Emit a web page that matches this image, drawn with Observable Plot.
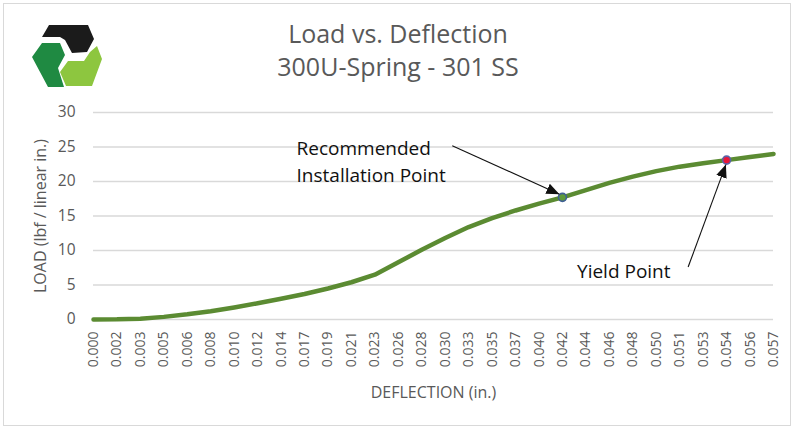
<!DOCTYPE html>
<html>
<head>
<meta charset="utf-8">
<script src="https://cdn.jsdelivr.net/npm/d3@7"></script>
<script src="https://cdn.jsdelivr.net/npm/@observablehq/plot@0.6"></script>
<style>
  body { margin: 0; background: #fff; }
  #wrap { position: relative; width: 796px; height: 431px; overflow: hidden; font-family: "Open Sans", sans-serif; background: #fff; }
  #frame { position: absolute; left: 3px; top: 3px; width: 788px; height: 423px; border: 1px solid #d9d9d9; box-sizing: border-box; }
  #title { position: absolute; left: 0; top: 17px; width: 796px; text-align: center; color: #595959; font-size: 25px; line-height: 33px; }
  #logo { position: absolute; left: 0; top: 0; }
  #chart { position: absolute; left: 0; top: 0; }
</style>
</head>
<body>
<div id="wrap">
  <div id="frame"></div>
  <svg id="logo" width="120" height="100" viewBox="0 0 120 100">
    <polygon points="49,25 88,25 94,39 87,52 72,53 65,40 60,37 42,37" fill="#1b1b1b"/>
    <polygon points="42,43 60,43 65,55 58,68 64,87 48,87 32,57" fill="#1f8a42"/>
    <polygon points="68,61 84,61 90,52 97,46 102,59 92,86 66,86 60,72" fill="#8dc63f"/>
  </svg>
  <div id="title">Load vs. Deflection<br>300U-Spring - 301 SS</div>
  <div id="chart"></div>
</div>
<script>
// Category labels (deflection, in.)
const labels = ["0.000","0.002","0.003","0.005","0.006","0.008","0.010","0.012","0.014","0.017",
                "0.019","0.021","0.023","0.026","0.028","0.030","0.033","0.035","0.037","0.040",
                "0.042","0.044","0.046","0.048","0.050","0.051","0.053","0.054","0.056","0.057"];
// Load values (lbf / linear in.)
const load = [0, 0.02, 0.12, 0.38, 0.75, 1.2, 1.75, 2.35, 3.0, 3.7,
              4.5, 5.4, 6.5, 8.3, 10.1, 11.8, 13.4, 14.7, 15.8, 16.8,
              17.7, 18.75, 19.8, 20.7, 21.5, 22.15, 22.65, 23.1, 23.55, 24.0];
const yTicks = [0, 5, 10, 15, 20, 25, 30];
const installIndex = 20;
const yieldIndex = 27;
// Annotation texts and anchor positions (category index, load)
const noteTexts = ["Recommended\nInstallation Point", "Yield Point"];
const noteX = [8.66, 20.62];
const noteY = [23.1, 7.3];
// Arrows: tail (x1,y1) -> tip (x2,y2) in (category index, load)
const arrowX1 = [15.3, 25.36];
const arrowY1 = [25.17, 7.6];
const arrowX2 = [19.87, 26.97];
const arrowY2 = [18.17, 22.45];

const idx = labels.map((_, i) => i);
const series = labels.map((l, i) => ({i, label: l, load: load[i]}));
const notes = noteTexts.map((t, k) => ({text: t, x: noteX[k], y: noteY[k]}));
const arrows = arrowX1.map((_, k) => ({x1: arrowX1[k], y1: arrowY1[k], x2: arrowX2[k], y2: arrowY2[k]}));
const special = [
  {i: installIndex, load: load[installIndex], fill: "#5e9a3a", stroke: "#3f5f94"},
  {i: yieldIndex, load: load[yieldIndex], fill: "#e8173a", stroke: "#5a63a6"}
];

const chart = Plot.plot({
  width: 796,
  height: 431,
  marginLeft: 93,
  marginRight: 23,
  marginTop: 112,
  marginBottom: 112,
  style: {fontFamily: "Open Sans, sans-serif", background: "transparent", overflow: "visible"},
  x: {domain: [0, labels.length - 1]},
  y: {domain: [0, 30]},
  marks: [
    Plot.gridY(yTicks, {stroke: "#d9d9d9", strokeOpacity: 1, strokeWidth: 1.3}),
    Plot.axisY(yTicks, {tickSize: 0, tickPadding: 18, fontSize: 15.5, fill: "#595959", label: null}),
    Plot.axisX(idx, {tickSize: 0, tickPadding: 12, tickRotate: -90, fontSize: 14, fill: "#595959",
                     tickFormat: (i) => labels[i], label: null}),
    Plot.line(series, {x: "i", y: "load", stroke: "#5b8b32", strokeWidth: 4.5, strokeLinecap: "round", strokeLinejoin: "round"}),
    Plot.dot(special, {x: "i", y: "load", r: 4, fill: "fill", stroke: "stroke", strokeWidth: 1.6}),
    Plot.link(arrows, {x1: "x1", y1: "y1", x2: "x2", y2: "y2", stroke: "#111", strokeWidth: 1.1}),
    Plot.text(notes, {x: "x", y: "y", text: "text", textAnchor: "start", lineAnchor: "middle",
                      fontSize: 19, lineHeight: 1.4, fill: "#111"}),
    Plot.text(["LOAD (lbf / linear in.)"], {frameAnchor: "left", textAnchor: "middle", lineAnchor: "middle",
                      dx: -53, rotate: -90, fontSize: 16, fill: "#595959"}),
    Plot.text(["DEFLECTION (in.)"], {frameAnchor: "bottom", lineAnchor: "middle", dy: 73, fontSize: 16, fill: "#595959"})
  ]
});

// filled arrowheads for annotation links
const ns = "http://www.w3.org/2000/svg";
const defs = document.createElementNS(ns, "defs");
const marker = document.createElementNS(ns, "marker");
marker.setAttribute("id", "ahead");
marker.setAttribute("viewBox", "0 0 13 11");
marker.setAttribute("refX", "13");
marker.setAttribute("refY", "5.5");
marker.setAttribute("markerWidth", "13");
marker.setAttribute("markerHeight", "11");
marker.setAttribute("markerUnits", "userSpaceOnUse");
marker.setAttribute("orient", "auto");
const mp = document.createElementNS(ns, "path");
mp.setAttribute("d", "M0,0L13,5.5L0,11Z");
mp.setAttribute("fill", "#111");
marker.appendChild(mp);
defs.appendChild(marker);
chart.insertBefore(defs, chart.firstChild);
chart.querySelectorAll('g[aria-label="link"] path').forEach(p => p.setAttribute("marker-end", "url(#ahead)"));

document.getElementById("chart").appendChild(chart);
</script>
</body>
</html>
